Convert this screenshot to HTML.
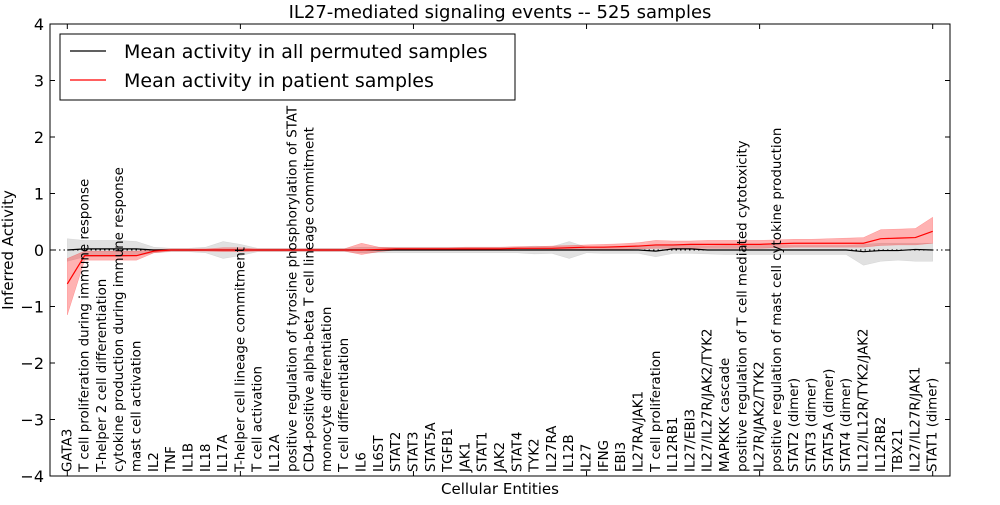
<!DOCTYPE html>
<html><head><meta charset="utf-8"><style>
body{margin:0;background:#fff;width:1000px;height:500px;overflow:hidden;font-family:"Liberation Sans","DejaVu Sans",sans-serif}
</style></head><body>
<svg id="chart" width="1000" height="500" xmlns="http://www.w3.org/2000/svg" font-family="DejaVu Sans, Liberation Sans, sans-serif"></svg>
<script>
const categories=["GATA3","T cell proliferation during immune response","T-helper 2 cell differentiation","cytokine production during immune response","mast cell activation","IL2","TNF","IL1B","IL18","IL17A","T-helper cell lineage commitment","T cell activation","IL12A","positive regulation of tyrosine phosphorylation of STAT","CD4-positive alpha-beta T cell lineage commitment","monocyte differentiation","T cell differentiation","IL6","IL6ST","STAT2","STAT3","STAT5A","TGFB1","JAK1","STAT1","JAK2","STAT4","TYK2","IL27RA","IL12B","IL27","IFNG","EBI3","IL27RA/JAK1","T cell proliferation","IL12RB1","IL27/EBI3","IL27/IL27R/JAK2/TYK2","MAPKKK cascade","positive regulation of T cell mediated cytotoxicity","IL27R/JAK2/TYK2","positive regulation of mast cell cytokine production","STAT2 (dimer)","STAT3 (dimer)","STAT5A (dimer)","STAT4 (dimer)","IL12/IL12R/TYK2/JAK2","IL12RB2","TBX21","IL27/IL27R/JAK1","STAT1 (dimer)"];
const patientMean=[-0.6,-0.1,-0.1,-0.1,-0.1,-0.02,0,0,0,0,0,0,0,0,0,0,0,0,0.01,0.02,0.02,0.02,0.02,0.02,0.02,0.02,0.03,0.03,0.03,0.04,0.05,0.05,0.06,0.07,0.09,0.09,0.1,0.1,0.1,0.1,0.1,0.11,0.12,0.12,0.12,0.12,0.12,0.2,0.21,0.22,0.33];
const patientLow=[-1.15,-0.18,-0.18,-0.18,-0.18,-0.05,-0.02,-0.02,-0.02,-0.03,-0.03,-0.02,-0.02,-0.02,-0.02,-0.02,-0.02,-0.08,-0.03,0,0,0,0,0,0,0,0,0,0,0,0.01,0.01,0.01,0.02,0.03,0.03,0.03,0.03,0.03,0.03,0.03,0.04,0.05,0.05,0.05,0.05,0.05,0.08,0.09,0.09,0.12];
const patientHigh=[-0.15,-0.02,-0.02,-0.02,-0.02,0.01,0.02,0.02,0.02,0.04,0.04,0.02,0.02,0.02,0.02,0.02,0.02,0.12,0.05,0.04,0.04,0.04,0.04,0.05,0.05,0.05,0.06,0.06,0.07,0.08,0.09,0.1,0.11,0.13,0.17,0.16,0.16,0.17,0.17,0.17,0.17,0.18,0.19,0.19,0.2,0.21,0.22,0.36,0.37,0.38,0.58];
const permMean=[0,0.02,0.02,0.02,0.02,0,0,0,0,0,0,0,0,0,0,0,0,0,0,0,0,0,0,0,0,0,0,0,0,0,0,0,0,0,-0.02,0.02,0.02,0,0,0,0,0,0,0,0,0,-0.03,-0.01,-0.01,0.01,0];
const permLow=[-0.2,-0.12,-0.12,-0.12,-0.1,-0.05,-0.03,-0.03,-0.05,-0.15,-0.1,-0.03,-0.03,-0.03,-0.03,-0.03,-0.03,-0.05,-0.05,-0.05,-0.05,-0.05,-0.05,-0.05,-0.05,-0.05,-0.05,-0.07,-0.06,-0.15,-0.05,-0.06,-0.06,-0.06,-0.12,-0.06,-0.06,-0.07,-0.08,-0.08,-0.08,-0.08,-0.08,-0.08,-0.08,-0.08,-0.27,-0.2,-0.18,-0.2,-0.2];
const permHigh=[0.2,0.17,0.17,0.17,0.15,0.05,0.03,0.03,0.05,0.15,0.1,0.03,0.03,0.03,0.03,0.03,0.03,0.05,0.05,0.05,0.05,0.05,0.05,0.05,0.05,0.05,0.05,0.07,0.06,0.15,0.05,0.06,0.06,0.06,0.08,0.08,0.08,0.07,0.08,0.08,0.08,0.08,0.08,0.08,0.08,0.08,0.1,0.12,0.12,0.12,0.12];
const yTicks=[-4,-3,-2,-1,0,1,2,3,4];
const xTicks=[0,10,20,30,40,50];

const L=50,R=950,T=24,B=476;
const xs=i=>L+(i+1)/52*(R-L);
const ys=v=>T+(4-v)/8*(B-T);
const svg=document.getElementById('chart');
const NS='http://www.w3.org/2000/svg';
function mk(tag,attrs,parent){const e=document.createElementNS(NS,tag);for(const k in attrs)e.setAttribute(k,attrs[k]);(parent||svg).appendChild(e);return e;}
function band(lo,hi,fill,op,name){
  let d='M'+lo.map((v,i)=>xs(i)+','+ys(v)).join('L');
  for(let i=hi.length-1;i>=0;i--)d+='L'+xs(i)+','+ys(hi[i]);
  const p=mk('path',{d:d+'Z',fill:fill,'fill-opacity':op,stroke:fill,'stroke-opacity':op,'stroke-width':0.5});
  
  
}
function line(vals,col,name){
  const p=mk('polyline',{points:vals.map((v,i)=>xs(i)+','+ys(v)).join(' '),fill:'none',stroke:col,'stroke-width':1.2});
  
  
}
band(permLow,permHigh,'#aaaaaa',0.35,'permuted-band');
band(patientLow,patientHigh,'#ff0000',0.3,'patient-band');
const zl=mk('line',{x1:L,x2:R,y1:ys(0),y2:ys(0),stroke:'#000','stroke-dasharray':'1.5,3','stroke-width':1});


line(permMean,'#000','permuted-mean-line');
line(patientMean,'#ff0000','patient-mean-line');
const fr=mk('rect',{x:L,y:T,width:R-L,height:B-T,fill:'none',stroke:'#000','stroke-width':1});


yTicks.forEach(v=>{
  mk('line',{x1:L,x2:L+5,y1:ys(v),y2:ys(v),stroke:'#000'});
  mk('line',{x1:R-5,x2:R,y1:ys(v),y2:ys(v),stroke:'#000'});
  const t=mk('text',{x:L-6,y:ys(v)+6,'text-anchor':'end','font-size':16});
  t.textContent=(v<0?'\u2212'+(-v):v);
  
  
});
xTicks.forEach(v=>{
  mk('line',{x1:xs(v),x2:xs(v),y1:B,y2:B-5,stroke:'#000'});
  mk('line',{x1:xs(v),x2:xs(v),y1:T,y2:T+5,stroke:'#000'});
});
categories.forEach((c,i)=>{
  const x=xs(i)+4,y=B-4;
  const t=mk('text',{x:x,y:y,transform:`rotate(-90 ${x} ${y})`,'font-size':13.4});
  t.textContent=c;
  
  
});
const title=mk('text',{x:500,y:18,'text-anchor':'middle','font-size':18});
title.textContent='IL27-mediated signaling events -- 525 samples';


const xt=mk('text',{x:500,y:494,'text-anchor':'middle','font-size':15});
xt.textContent='Cellular Entities';


const yt=mk('text',{x:13,y:250,'text-anchor':'middle','font-size':15,transform:'rotate(-90 13 250)'});
yt.textContent='Inferred Activity';


const lg=mk('g',{});


mk('rect',{x:60,y:34,width:455,height:66,fill:'#fff',stroke:'#000'},lg);
[['#000','Mean activity in all permuted samples',51],['#ff0000','Mean activity in patient samples',80]].forEach(([c,txt,y])=>{
  const g=mk('g',{},lg);
  
  
  mk('line',{x1:70,x2:106,y1:y,y2:y,stroke:c,'stroke-width':1.2},g);
  const t=mk('text',{x:124,y:y+7,'font-size':19},g);t.textContent=txt;
});
</script>
</body></html>
